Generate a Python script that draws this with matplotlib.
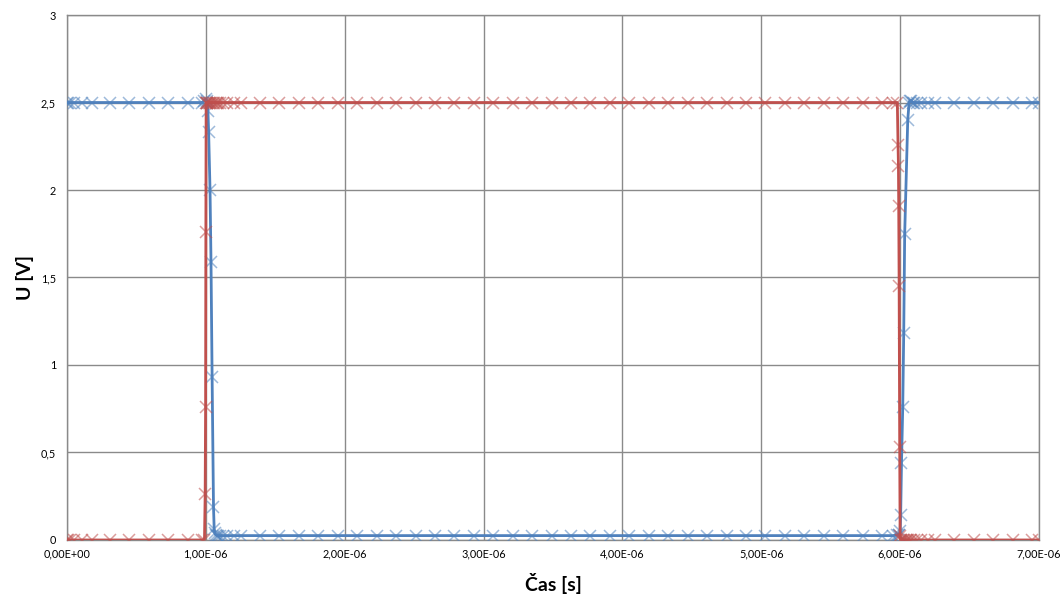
import matplotlib
matplotlib.use("Agg")
import matplotlib.pyplot as plt
from matplotlib.ticker import FuncFormatter, MultipleLocator

plt.rcParams['font.family'] = ['Lato', 'DejaVu Sans']

# time in microseconds, voltages in V
t_mid = [1.25, 1.39, 1.53, 1.67, 1.81, 1.95, 2.09, 2.23, 2.37, 2.51, 2.65, 2.79,
         2.93, 3.07, 3.21, 3.35, 3.49, 3.63, 3.77, 3.91, 4.05, 4.19, 4.33, 4.47,
         4.61, 4.75, 4.89, 5.03, 5.17, 5.31, 5.45, 5.59, 5.73, 5.87]
t_tail = [6.25, 6.39, 6.53, 6.67, 6.81, 6.95, 7.0]

# blue series
blue_t = ([0, 0.01, 0.02, 0.05, 0.11, 0.18, 0.31, 0.45, 0.59, 0.73, 0.87, 0.97,
           0.99, 1.0, 1.005, 1.01, 1.015, 1.02, 1.03, 1.037, 1.045, 1.055, 1.06,
           1.065, 1.07, 1.08, 1.09, 1.1, 1.12, 1.15, 1.2]
          + t_mid
          + [5.95, 5.98, 5.99, 5.995, 6.0, 6.004, 6.01, 6.019, 6.026, 6.033,
             6.055, 6.065, 6.07, 6.08, 6.09, 6.1, 6.12, 6.15, 6.2]
          + t_tail)
blue_u = ([2.5, 2.5, 2.5, 2.5, 2.5, 2.5, 2.5, 2.5, 2.5, 2.5, 2.5, 2.5,
           2.51, 2.52, 2.51, 2.5, 2.45, 2.33, 2.0, 1.59, 0.93, 0.19, 0.06,
           0.04, 0.03, 0.025, 0.025, 0.025, 0.025, 0.025, 0.025]
          + [0.025] * len(t_mid)
          + [0.025, 0.03, 0.03, 0.03, 0.05, 0.14, 0.44, 0.76, 1.18, 1.75,
             2.4, 2.5, 2.51, 2.51, 2.5, 2.5, 2.5, 2.5, 2.5]
          + [2.5] * len(t_tail))

# red series
red_t = ([0, 0.01, 0.02, 0.05, 0.11, 0.18, 0.31, 0.45, 0.59, 0.73, 0.87, 0.97,
          0.99, 0.995, 0.998, 1.0, 1.002, 1.005, 1.01, 1.02, 1.03, 1.04, 1.05,
          1.06, 1.07, 1.08, 1.09, 1.1, 1.12, 1.15, 1.2]
         + t_mid
         + [5.95, 5.98, 5.985, 5.988, 5.99, 5.993, 5.997, 6.0, 6.004, 6.01,
            6.02, 6.03, 6.04, 6.05, 6.06, 6.07, 6.08, 6.1, 6.12, 6.15, 6.2]
         + t_tail)
red_u = ([0, 0, 0, 0, 0, 0, 0, 0, 0, 0, 0, 0,
          0, 0.26, 0.76, 1.76, 2.5, 2.5, 2.5, 2.5, 2.5, 2.5, 2.5,
          2.5, 2.5, 2.5, 2.5, 2.5, 2.5, 2.5, 2.5]
         + [2.5] * len(t_mid)
         + [2.5, 2.5, 2.26, 2.14, 1.91, 1.45, 0.53, 0.02, 0, 0,
            0, 0, 0, 0, 0, 0, 0, 0, 0, 0, 0]
         + [0] * len(t_tail))

blue = '#4F81BD'
red = '#C0504D'

fig = plt.figure(figsize=(10.62, 5.96), dpi=100)
ax = fig.add_axes([0.0631, 0.094, 0.9152, 0.8808])

ax.plot([v * 1e-6 for v in blue_t], blue_u, '-', color=blue, lw=2.0,
        marker='x', ms=8, mew=1.1, mec=(0.31, 0.51, 0.74, 0.55), zorder=3)
ax.plot([v * 1e-6 for v in red_t], red_u, '-', color=red, lw=2.0,
        marker='x', ms=8, mew=1.1, mec=(0.75, 0.31, 0.30, 0.55), zorder=3)

ax.set_xlim(0, 7e-6)
ax.set_ylim(0, 3)
ax.xaxis.set_major_locator(MultipleLocator(1e-6))
ax.yaxis.set_major_locator(MultipleLocator(0.5))
ax.xaxis.set_major_formatter(FuncFormatter(lambda v, p: f"{v:.2E}".replace('.', ',')))
ax.yaxis.set_major_formatter(FuncFormatter(lambda v, p: f"{v:g}".replace('.', ',')))
ax.tick_params(length=0, labelsize=7.8, colors='#000000')
ax.tick_params(axis='y', pad=8)
ax.tick_params(axis='x', pad=6)

ax.grid(True, color='#8A8A8A', lw=1.0)
ax.set_axisbelow(True)
for s in ax.spines.values():
    s.set_color('#8A8A8A')
    s.set_linewidth(1.0)

ax.set_xlabel('Čas [s]', fontsize=14, fontweight='bold', labelpad=10)
ax.set_ylabel('U [V]', fontsize=14, fontweight='bold', labelpad=5)

fig.savefig('out.png', dpi=100)
